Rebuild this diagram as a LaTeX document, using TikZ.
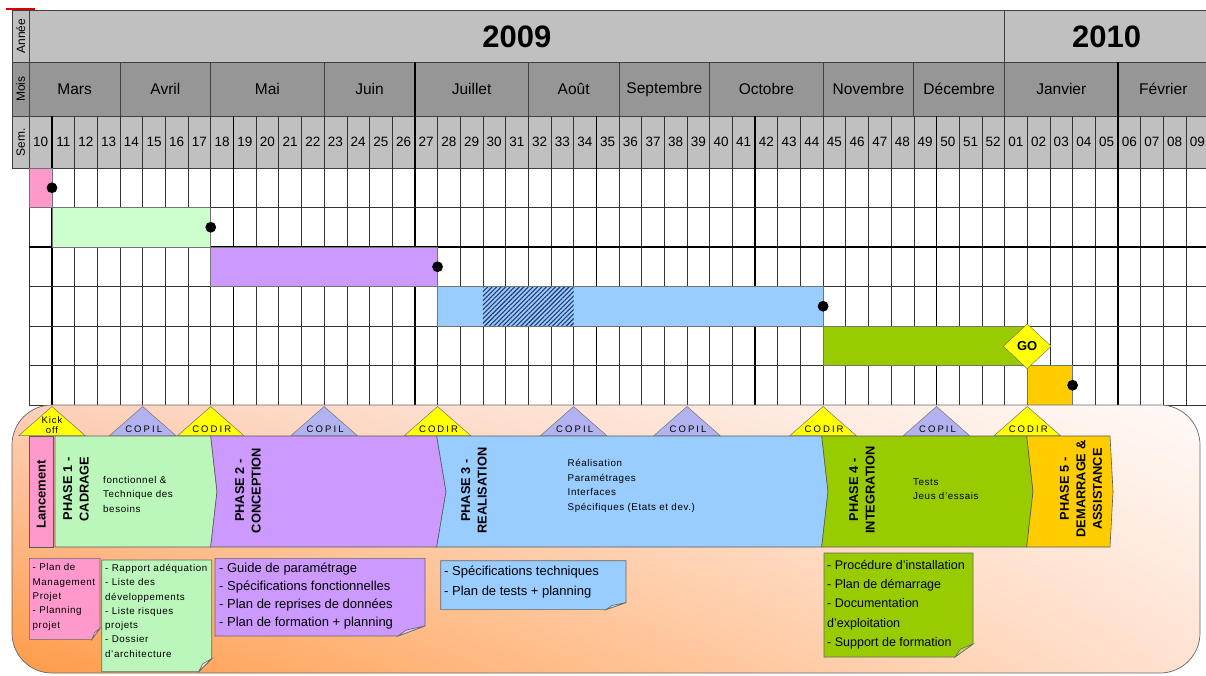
\documentclass[tikz,border=0pt]{standalone}
\usepackage{fontspec}
\setmainfont{Liberation Sans}
\usepackage{tikz}
\usetikzlibrary{positioning, shapes.geometric, patterns.meta, shadings}
\definecolor{hdrlight}{RGB}{192,192,192}
\definecolor{hdrdark}{RGB}{150,150,150}
\definecolor{lancpink}{RGB}{255,153,204}
\definecolor{cadgreen}{RGB}{204,255,204}
\definecolor{cadgreenb}{RGB}{187,247,187}
\definecolor{conpurple}{RGB}{204,153,255}
\definecolor{realblue}{RGB}{153,204,255}
\definecolor{intgreen}{RGB}{153,204,0}
\definecolor{demorange}{RGB}{255,204,0}
\definecolor{msyellow}{RGB}{255,255,0}
\definecolor{copilblue}{RGB}{178,178,240}
\definecolor{hatchnavy}{RGB}{35,55,110}
\definecolor{peachtl}{RGB}{252,208,186}
\definecolor{peachtr}{RGB}{255,250,247}
\definecolor{peachbl}{RGB}{255,155,72}
\definecolor{peachbr}{RGB}{255,226,210}

% week index (0 = week 10 of 2009) -> x
\newcommand{\wkx}[1]{\fpeval{round(29.3+22.68*(#1),2)}}
% post-it with folded corner: x0,y0,x1,y1,fold w,fold h,colour
\newcommand{\stickynote}[7]{%
  \filldraw[notebox, fill=#7] (#1,#2) -- (#3,#2) -- (#3,{#4-#6}) -- ({#3-#5},#4) -- (#1,#4) -- cycle;
  \filldraw[notebox, fill=#7!60!white] (#3,{#4-#6}) -- ({#3-#5},#4) -- ({#3-0.7*#5},{#4-0.6*#6}) -- cycle;}

\begin{document}
\begin{tikzpicture}[x=1pt, y=-1pt, every node/.style={inner sep=0pt},
    hdrline/.style={draw=black!75, line width=0.7pt},
    gridline/.style={draw=black!80, line width=0.6pt},
    gridbold/.style={draw=black, line width=1.3pt},
    ganttbar/.style={draw=black!55, line width=0.5pt},
    monthlabel/.style={font=\fontsize{15.5}{15.5}\selectfont},
    weeklabel/.style={font=\fontsize{13.5}{13.5}\selectfont},
    sidelabel/.style={rotate=90, font=\fontsize{12}{12}\selectfont},
    phasebox/.style={draw=black!65, line width=0.6pt},
    phasetitle/.style={rotate=90, align=center, font=\bfseries\fontsize{12.8}{16.5}\selectfont},
    phasetext/.style={anchor=west, align=left, font=\fontsize{9.8}{14.5}\selectfont\addfontfeature{LetterSpace=6}},
    milestone/.style={draw=black!55, line width=0.5pt},
    mslabel/.style={align=center, font=\fontsize{9.5}{10}\selectfont\addfontfeature{LetterSpace=22}},
    notebox/.style={draw=black!60, line width=0.6pt},
    smallnote/.style={anchor=north west, align=left, font=\fontsize{9.8}{14.3}\selectfont\addfontfeature{LetterSpace=6}},
    bignote/.style={anchor=north west, align=left, font=\fontsize{13}{17.9}\selectfont}]
\clip (0,0) rectangle (1206,675);
\draw[red!85!black, line width=2pt] (6,9) -- (35,9);

% header
\filldraw[hdrline, fill=hdrlight] (12,10) rectangle (1212,62);
\filldraw[hdrline, fill=hdrdark] (12,62) rectangle (1212,116);
\filldraw[hdrline, fill=hdrlight] (12,116) rectangle (1212,168);
\draw[hdrline] (29.3,10) -- (29.3,168);
\draw[hdrline] ({\wkx{43}},10) -- ({\wkx{43}},62);
\node[sidelabel] (lbl-an) at (20.7,36) {Année};
\node[sidelabel] (lbl-mois) at (20.7,89) {Mois};
\node[sidelabel] (lbl-sem) at (20.7,142) {Sem.};
\node[font=\bfseries\fontsize{31}{31}\selectfont] (y2009) at ({\wkx{21.5}},37) {2009};
\node[font=\bfseries\fontsize{31}{31}\selectfont] (y2010) at ({\wkx{47.5}},37) {2010};
\foreach \m/\a/\b in {Mars/0/4, Avril/4/8, Mai/8/13, Juin/13/17, Juillet/17/22, Août/22/26,
    Septembre/26/30, Octobre/30/35, Novembre/35/39, Décembre/39/43, Janvier/43/48, Février/48/52}{
  \draw[hdrline] ({\wkx{\b}},62) -- ({\wkx{\b}},116);
  \node[monthlabel] (mo-\a) at ({\wkx{(\a+\b)/2}},89) {\m};
}
\foreach \i in {17,48}
  \draw[gridbold] ({\wkx{\i}},62) -- ({\wkx{\i}},116);
\foreach \w in {10,...,52}
  \node[weeklabel] (wk-\w) at ({\wkx{\w-9.5}},142) {\w};
\foreach \w in {1,...,9}
  \node[weeklabel] (wk-0\w) at ({\wkx{42.5+\w}},142) {0\w};

% grid
\draw[gridline] (29.3,168) -- (29.3,405);
\foreach \i in {1,...,51}
  \draw[gridline] ({\wkx{\i}},116) -- ({\wkx{\i}},405);
\foreach \i in {1,9,17,25,32,40,48}
  \draw[gridbold] ({\wkx{\i}},116) -- ({\wkx{\i}},405);
\foreach \r in {1,...,6}
  \draw[gridline] (29.3,{168+39.5*\r}) -- (1212,{168+39.5*\r});
\draw[gridbold] (29.3,247) -- (1212,247);

% bars
\foreach \a/\b/\r/\c in {0/1/0/lancpink, 1/8/1/cadgreen, 8/18/2/conpurple,
    18/35/3/realblue, 35/44/4/intgreen, 44/46/5/demorange}
  \filldraw[ganttbar, fill=\c] ({\wkx{\a}},{168+39.5*\r}) rectangle ({\wkx{\b}},{168+39.5*(\r+1)});
\fill[pattern={Lines[angle=45, distance=3.2pt, line width=1.1pt]}, pattern color=hatchnavy]
  ({\wkx{20}},287) rectangle ({\wkx{24}},325.5);
\foreach \i/\r in {1/0, 8/1, 18/2, 35/3, 46/5}
  \fill ({\wkx{\i}},{187.75+39.5*\r}) circle[radius=5.4];
\node[diamond, draw=black!60, fill=msyellow, minimum width=48, minimum height=45,
  font=\bfseries\fontsize{13}{13}\selectfont] (go) at ({\wkx{44}},346.3) {GO};

% phases area
\shadedraw[draw=black!60, line width=0.7pt, rounded corners=40,
  upper left=peachtl, upper right=peachtr, lower left=peachbl, lower right=peachbr]
  (12,405) rectangle (1200,673);
\filldraw[phasebox, fill=lancpink] (29.3,436) rectangle (53.3,547);
\foreach \a/\b/\da/\db/\c in {55/210.7/0/6.3/cadgreenb, 210.7/436.7/6.3/9.3/conpurple,
    436.7/821.7/9.3/6.3/realblue, 821.7/1026.7/6.3/6.3/intgreen, 1026.7/1110/6.3/3/demorange}
  \filldraw[phasebox, fill=\c] (\a,436) -- (\b,436) -- ({\b+\db},491.5) -- (\b,547)
    -- (\a,547) -- ({\a+\da},491.5) -- cycle;
\node[phasetitle, font=\bfseries\fontsize{13}{13}\selectfont] (lanc) at (41.3,494.5) {Lancement};
\node[phasetitle] (ph1) at (76,489) {PHASE 1 -\\CADRAGE};
\node[phasetitle] (ph2) at (248,490.5) {PHASE 2 -\\CONCEPTION};
\node[phasetitle] (ph3) at (474,490.5) {PHASE 3 -\\REALISATION};
\node[phasetitle] (ph4) at (862,490) {PHASE 4 -\\INTEGRATION};
\node[phasetitle] (ph5) at (1081,489) {PHASE 5 -\\DEMARRAGE \&\\ASSISTANCE};
\node[phasetext] (ph1-txt) at (103,494) {fonctionnel \&\\Technique des\\besoins};
\node[phasetext] (ph3-txt) at (567.5,486) {Réalisation\\Paramétrages\\Interfaces\\Spécifiques (Etats et dev.)};
\node[phasetext] (ph4-txt) at (913,489) {Tests\\Jeus d'essais};

% milestones
\filldraw[milestone, fill=msyellow] ({\wkx{1}-33},435.5) -- ({\wkx{1}},406.5) -- ({\wkx{1}+33},435.5) -- cycle;
\node[mslabel, font=\fontsize{9.5}{10}\selectfont\addfontfeature{LetterSpace=10}] (ms-kick) at ({\wkx{1}},425) {Kick\\off};
\foreach \i/\c/\t in {5/copilblue/COPIL, 8/msyellow/CODIR, 13/copilblue/COPIL, 18/msyellow/CODIR,
    24/copilblue/COPIL, 29/copilblue/COPIL, 35/msyellow/CODIR, 40/copilblue/COPIL, 44/msyellow/CODIR}{
  \filldraw[milestone, fill=\c] ({\wkx{\i}-33},435.5) -- ({\wkx{\i}},406.5) -- ({\wkx{\i}+33},435.5) -- cycle;
  \node[mslabel] (ms-\i) at ({\wkx{\i}+1},429.5) {\t};
}

% deliverables
\stickynote{29.3}{558.3}{100}{639.3}{8}{11}{lancpink}
\node[smallnote] (del-lanc) at (32.5,563.5) {- Plan de\\Management\\Projet\\- Planning\\projet};
\stickynote{101.7}{560}{211.7}{671.7}{13}{13}{cadgreenb}
\node[smallnote] (del-cad) at (105,564) {- Rapport adéquation\\- Liste des\\développements\\- Liste risques\\projets\\- Dossier\\d'architecture};
\stickynote{215}{558.3}{425}{636}{27}{10}{conpurple}
\node[bignote] (del-con) at (219,563) {- Guide de paramétrage\\- Spécifications fonctionnelles\\- Plan de reprises de données\\- Plan de formation + planning};
\stickynote{440.7}{560.7}{626}{609.6}{20}{7}{realblue}
\node[bignote, font=\fontsize{13}{19.5}\selectfont] (del-real) at (444,566) {- Spécifications techniques\\- Plan de tests + planning};
\stickynote{824}{553}{973}{657}{18}{13}{intgreen}
\node[bignote, font=\fontsize{12.5}{19.2}\selectfont] (del-int) at (827,560) {- Procédure d'installation\\- Plan de démarrage\\- Documentation\\d'exploitation\\- Support de formation};
\end{tikzpicture}
\end{document}
